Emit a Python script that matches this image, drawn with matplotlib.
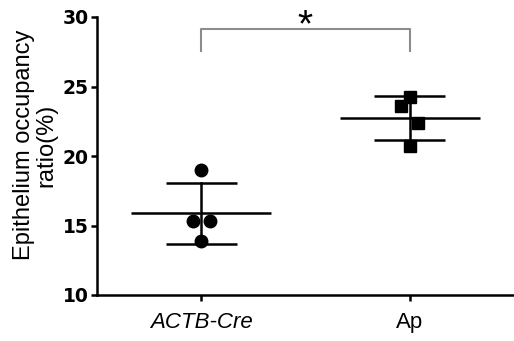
import matplotlib
matplotlib.use("Agg")
import matplotlib.pyplot as plt
import numpy as np

plt.rcParams['font.family'] = ['Liberation Sans', 'DejaVu Sans']

categories = ["ACTB-Cre", "Ap"]
actb_values = [19.0, 15.3, 15.3, 13.9]
ap_values = [24.25, 23.6, 22.4, 20.7]
jitter_actb = [0.0, -0.04, 0.04, 0.0]
jitter_ap = [0.0, -0.04, 0.04, 0.0]
yticks = [10, 15, 20, 25, 30]

fig = plt.figure(figsize=(5.14, 3.41), dpi=100)
ax = fig.add_axes([97/514, 1-295/341, 1-97/514, (295-17)/341])

groups = [(actb_values, jitter_actb, 'o', 9), (ap_values, jitter_ap, 's', 8)]
for i, (vals, jit, mk, ms) in enumerate(groups):
    v = np.array(vals)
    m = v.mean(); s = v.std(ddof=1)
    ax.plot([i - 0.335, i + 0.335], [m, m], color='black', lw=1.8, zorder=3, solid_capstyle='butt')
    ax.plot([i, i], [m - s, m + s], color='black', lw=1.8, zorder=3)
    for yy in (m - s, m + s):
        ax.plot([i - 0.17, i + 0.17], [yy, yy], color='black', lw=1.8, zorder=3, solid_capstyle='butt')
    ax.plot(np.array(jit) + i, v, linestyle='none', marker=mk, ms=ms, color='black', zorder=4, clip_on=False)

ax.set_xlim(-0.5, 1.5)
ax.set_ylim(10, 30)
ax.set_yticks(yticks)
ax.set_yticklabels([str(t) for t in yticks], fontweight='bold', fontsize=13.5, family=['DejaVu Sans'])
ax.set_xticks([0, 1])
labs = ax.set_xticklabels(categories, fontsize=16)
labs[0].set_fontstyle('italic')

for sp in ['top', 'right']:
    ax.spines[sp].set_visible(False)
for sp in ['left', 'bottom']:
    ax.spines[sp].set_linewidth(1.8)
ax.tick_params(axis='both', width=1.8, length=4.5, color='black')
ax.tick_params(axis='x', pad=8)
ax.tick_params(axis='y', pad=1.5)

ax.set_ylabel("Epithelium occupancy\nratio(%)", fontsize=17, linespacing=1.05)
ax.yaxis.set_label_coords(-0.095, 0.54)

# significance bracket
yb = 10 + (295 - 29) / 13.9
yl = 10 + (295 - 51) / 13.9
ax.plot([0, 0, 1, 1], [yl, yb, yb, yl], color='#8c8c8c', lw=1.5, clip_on=False)
ax.text(0.5, 10 + (295 - 36) / 13.9, '*', ha='center', va='baseline', fontsize=28, clip_on=False)

fig.savefig('out.png', dpi=100)
